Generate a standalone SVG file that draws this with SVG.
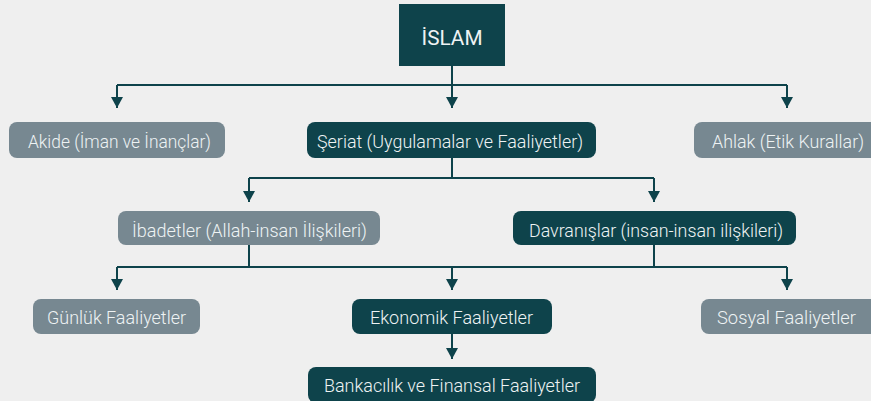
<svg xmlns="http://www.w3.org/2000/svg" width="871" height="401" viewBox="0 0 871 401">
<defs>
<style>
.bg{fill:#efefef}
.dark{fill:#0e434b}
.grey{fill:#778891}
.t{font-family:"Roboto","Liberation Sans",sans-serif;font-size:18px;font-weight:300;fill:#eef3f4;text-anchor:middle}
.big{font-size:21px;font-weight:400}
.c{fill:none;stroke:#0e434b;stroke-width:2}
</style>
<marker id="ah" markerUnits="userSpaceOnUse" markerWidth="12" markerHeight="12" refX="11" refY="6" orient="auto">
<path d="M0,0 L11,6 L0,12 z" fill="#0e434b"/>
</marker>
</defs>
<rect class="bg" x="0" y="0" width="871" height="401"/>
<g id="connectors">
<path class="c" d="M452,66 V85"/>
<path class="c" d="M117,85 H787"/>
<path class="c" d="M117,85 V108" marker-end="url(#ah)"/>
<path class="c" d="M452,85 V108" marker-end="url(#ah)"/>
<path class="c" d="M787,85 V108" marker-end="url(#ah)"/>
<path class="c" d="M452,158 V178"/>
<path class="c" d="M249,178 H654"/>
<path class="c" d="M249,178 V202" marker-end="url(#ah)"/>
<path class="c" d="M654,178 V202" marker-end="url(#ah)"/>
<path class="c" d="M249,245 V267"/>
<path class="c" d="M654,245 V267"/>
<path class="c" d="M117,267 H787"/>
<path class="c" d="M117,267 V290" marker-end="url(#ah)"/>
<path class="c" d="M452,267 V290" marker-end="url(#ah)"/>
<path class="c" d="M787,267 V290" marker-end="url(#ah)"/>
<path class="c" d="M452,334 V359" marker-end="url(#ah)"/>
</g>
<g id="islam">
<rect class="dark" x="399" y="4" width="106" height="62"/>
<text class="t big" x="452" y="45" textLength="61" lengthAdjust="spacingAndGlyphs">İSLAM</text>
</g>
<g id="akide">
<rect class="grey" x="9" y="122" width="216" height="36" rx="8"/>
<text class="t" x="119.5" y="148" textLength="183" lengthAdjust="spacingAndGlyphs">Akide (İman ve İnançlar)</text>
</g>
<g id="seriat">
<rect class="dark" x="307" y="122" width="289" height="36" rx="8"/>
<text class="t" x="450" y="148" textLength="266" lengthAdjust="spacingAndGlyphs">Şeriat (Uygulamalar ve Faaliyetler)</text>
</g>
<g id="ahlak">
<rect class="grey" x="694" y="122" width="190" height="36" rx="8"/>
<text class="t" x="788" y="148" textLength="152" lengthAdjust="spacingAndGlyphs">Ahlak (Etik Kurallar)</text>
</g>
<g id="ibadetler">
<rect class="grey" x="118" y="211" width="262" height="34" rx="8"/>
<text class="t" x="249.5" y="236.5" textLength="235" lengthAdjust="spacingAndGlyphs">İbadetler (Allah-insan İlişkileri)</text>
</g>
<g id="davranislar">
<rect class="dark" x="513" y="211" width="283" height="34" rx="8"/>
<text class="t" x="656" y="236.5" textLength="254" lengthAdjust="spacingAndGlyphs">Davranışlar (insan-insan ilişkileri)</text>
</g>
<g id="gunluk">
<rect class="grey" x="33" y="299" width="167" height="35" rx="8"/>
<text class="t" x="116.5" y="324" textLength="139" lengthAdjust="spacingAndGlyphs">Günlük Faaliyetler</text>
</g>
<g id="ekonomik">
<rect class="dark" x="352" y="299" width="200" height="35" rx="8"/>
<text class="t" x="451.5" y="324" textLength="163" lengthAdjust="spacingAndGlyphs">Ekonomik Faaliyetler</text>
</g>
<g id="sosyal">
<rect class="grey" x="701" y="299" width="178" height="35" rx="8"/>
<text class="t" x="786.5" y="324" textLength="139" lengthAdjust="spacingAndGlyphs">Sosyal Faaliyetler</text>
</g>
<g id="bankacilik">
<rect class="dark" x="308" y="367" width="288" height="36" rx="8"/>
<text class="t" x="452" y="392" textLength="256" lengthAdjust="spacingAndGlyphs">Bankacılık ve Finansal Faaliyetler</text>
</g>
</svg>
